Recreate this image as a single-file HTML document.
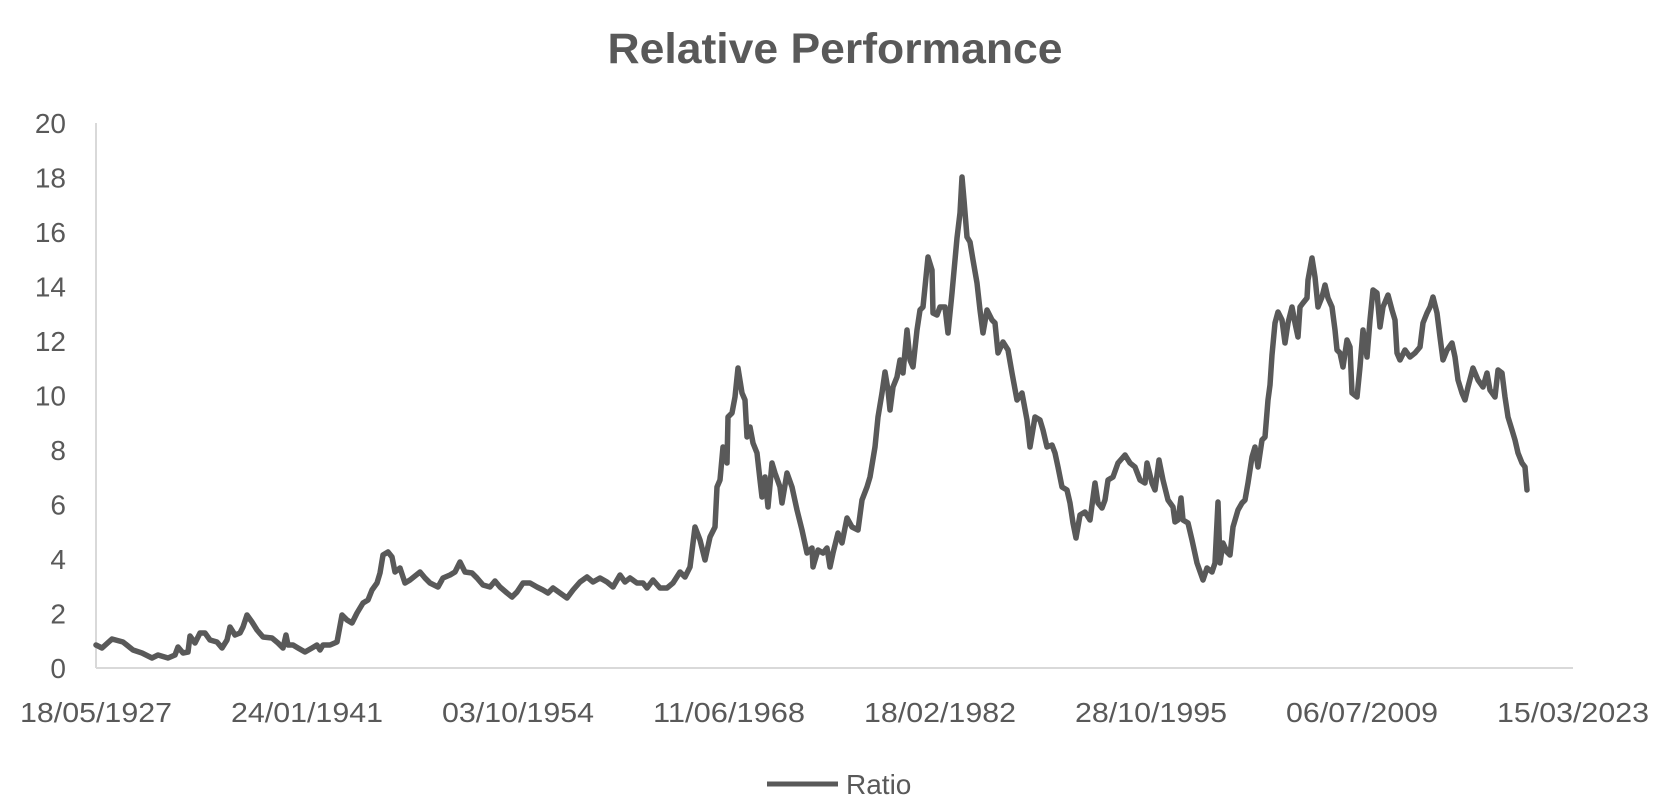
<!DOCTYPE html>
<html><head><meta charset="utf-8"><style>
html,body{margin:0;padding:0;background:#fff;}
svg{display:block;}
text{font-family:"Liberation Sans",Arial,sans-serif;fill:#595959;}
</style></head><body>
<svg width="1671" height="807" viewBox="0 0 1671 807" xmlns="http://www.w3.org/2000/svg">
<rect width="1671" height="807" fill="#fff"/>
<text x="835" y="63" font-size="43" font-weight="bold" text-anchor="middle" textLength="455" lengthAdjust="spacingAndGlyphs">Relative Performance</text>
<line x1="96" y1="123" x2="96" y2="668" stroke="#d9d9d9" stroke-width="2"/>
<line x1="96" y1="668" x2="1573" y2="668" stroke="#d9d9d9" stroke-width="2"/>
<g font-size="28" text-anchor="end">
<text x="66" y="678">0</text>
<text x="66" y="623.5">2</text>
<text x="66" y="569">4</text>
<text x="66" y="514.5">6</text>
<text x="66" y="460">8</text>
<text x="66" y="405.5">10</text>
<text x="66" y="351">12</text>
<text x="66" y="296.5">14</text>
<text x="66" y="242">16</text>
<text x="66" y="187.5">18</text>
<text x="66" y="133">20</text>
</g>
<g font-size="28" text-anchor="middle">
<text x="96" y="722" textLength="152" lengthAdjust="spacingAndGlyphs">18/05/1927</text>
<text x="307" y="722" textLength="152" lengthAdjust="spacingAndGlyphs">24/01/1941</text>
<text x="518" y="722" textLength="152" lengthAdjust="spacingAndGlyphs">03/10/1954</text>
<text x="729" y="722" textLength="152" lengthAdjust="spacingAndGlyphs">11/06/1968</text>
<text x="940" y="722" textLength="152" lengthAdjust="spacingAndGlyphs">18/02/1982</text>
<text x="1151" y="722" textLength="152" lengthAdjust="spacingAndGlyphs">28/10/1995</text>
<text x="1362" y="722" textLength="152" lengthAdjust="spacingAndGlyphs">06/07/2009</text>
<text x="1573" y="722" textLength="152" lengthAdjust="spacingAndGlyphs">15/03/2023</text>
</g>
<polyline fill="none" stroke="#595959" stroke-width="5.5" stroke-linejoin="round" stroke-linecap="round" points="
96,645 102,648 112,639 123,642 133,650 142,653 152,658 158,655 168,658 175,655 178,647 183,653 188,652 190,636 195,643 200,633 205,633 210,640 217,642 222,648 227,640 230,627 235,635 240,633 243,627 247,615 252,622 257,630 263,637 272,638 278,643 283,648 286,635 288,645 293,645 298,648 305,652 312,648 317,645 320,650 323,645 330,645 337,642 342,615 347,620 352,623 357,613 363,603 368,600 372,590 377,583 380,573 383,555 388,552 392,557 395,572 400,568 405,583 410,580 420,572 425,578 430,583 438,587 443,578 450,575 455,572 460,562 465,572 472,573 477,578 483,585 490,587 495,581 500,587 507,593 512,597 517,592 523,583 530,583 537,587 543,590 548,593 553,588 560,593 567,598 573,590
580,582 587,577 593,582 600,578 607,582 613,587 620,575 625,582 630,578 637,583 643,583 647,588 653,580 660,588 667,588 673,583 680,572 685,577 690,567 695,527 700,540 705,560 710,537 715,527 717,487 720,480 723,447 727,463 728,417 732,413 735,397 738,368 742,393 745,400 747,437 750,427 753,443 757,453 760,480 762,497 765,477 768,507 772,463 775,473 780,487 782,503 787,473 792,487 797,510 802,530 807,553 812,548 813,567 818,550 823,553 827,548 830,567 833,553 838,533 842,543 847,518 852,527 858,530 862,500 867,487
870,477 875,447 878,417 882,393 885,372 888,390 890,410 893,387 897,377 900,360 903,373 907,330 910,360 913,367 917,330 920,310 923,307 925,287 928,257 932,270 933,313 937,315 940,307 945,307 948,333 952,293 955,260 957,238 960,213 962,177 964,200 967,237 970,242 973,260 977,283 980,310 983,333 987,310 992,320 995,323 998,353 1003,342 1008,350 1012,373 1017,400 1022,393 1027,420 1030,447 1035,417
1040,420 1043,430 1047,447 1052,445 1055,453 1058,467 1062,487 1067,490 1070,503 1073,523 1076,538 1080,515 1085,512 1090,520 1095,483 1098,503 1102,508 1105,500 1108,480 1113,477 1118,463 1125,455 1130,463 1135,467 1140,480 1145,483 1147,463 1152,483 1155,490 1159,460 1163,480 1168,500 1173,507 1175,522 1178,520 1181,498 1183,520 1188,523 1192,540 1197,563 1203,580 1207,568 1212,572 1215,563 1218,502 1220,563 1223,543 1227,552 1230,555 1233,527 1238,510 1242,503 1245,500 1248,483 1252,457 1255,447 1258,467 1262,440
1265,437 1268,400 1270,385 1272,355 1275,323 1278,312 1282,320 1285,343 1288,323 1292,307 1295,323 1298,337 1300,307 1303,303 1307,298 1308,280 1312,258 1315,277 1318,307 1322,297 1325,285 1328,298 1332,307 1335,330 1337,350 1340,353 1343,367 1347,340 1350,347 1352,393 1357,397 1360,367 1363,330 1367,357 1370,320 1373,290 1377,293 1380,327 1383,307 1388,295 1392,310 1395,320 1397,353 1400,360 1405,350 1410,357 1415,353 1420,347 1423,323 1427,313 1430,307 1433,297 1437,313 1440,337 1443,360 1447,350 1452,343 1455,357 1458,380 1462,393 1465,400 1468,387 1473,368 1478,380 1483,387 1487,373 1490,390 1495,397 1498,370 1502,373 1505,397 1508,417 1512,430 1515,440 1518,453 1522,463 1525,467 1527,490"/>
<line x1="767" y1="784" x2="838" y2="784" stroke="#595959" stroke-width="5"/>
<text x="846" y="794" font-size="28">Ratio</text>
</svg>
</body></html>
